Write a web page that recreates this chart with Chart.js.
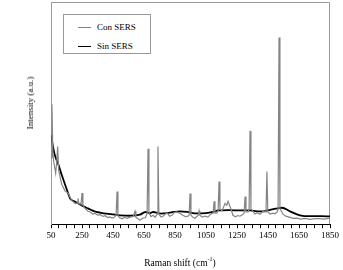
<!DOCTYPE html>
<html>
<head>
<meta charset="utf-8">
<script src="https://cdn.jsdelivr.net/npm/chart.js@4"></script>
<style>
  html, body { margin: 0; padding: 0; background: #fff; }
  #wrap { position: relative; width: 343px; height: 270px; font-family: "Liberation Serif", serif; color: #000; }
  #legend { position: absolute; left: 63px; top: 14px; width: 86px; height: 38px; border: 1px solid #999; background: #fff; font-size: 9px; }
  #legend .row { position: absolute; left: 0; height: 12px; line-height: 12px; white-space: nowrap; }
  #legend .swatch { position: absolute; left: 14px; width: 13px; top: 6px; }
  #legend .txt { position: absolute; left: 33px; top: 0; }
  #ytitle { position: absolute; left: 30px; top: 103px; transform: translate(-50%, -50%) rotate(-90deg); font-size: 9px; white-space: nowrap; }
  #xtitle { position: absolute; left: 180px; top: 262px; transform: translate(-50%, -50%); font-size: 9.5px; white-space: nowrap; }
</style>
</head>
<body>
<div id="wrap">
  <canvas id="ramanChart" width="343" height="270"></canvas>
  <div id="legend"></div>
  <div id="ytitle">Intensity (a.u.)</div>
  <div id="xtitle">Raman shift (cm<sup style="font-size:6px">-1</sup>)</div>
</div>
<script>
// Raman spectra, with and without SERS substrate

const seriesNames = ['Con SERS', 'Sin SERS'];

// Con SERS (grey, sharp peaks, slightly wavy baseline)
const conX = [50, 56, 62, 68, 80, 87, 93, 100, 119, 140, 160, 183, 205, 218, 224, 230, 240, 244, 250, 256,
  270, 289, 305, 320, 335, 350, 368, 385, 400, 415, 430, 445, 460, 470, 476, 482, 490, 510, 525, 540,
  560, 580, 586, 592, 598, 610, 624, 640, 660, 670, 676, 682, 695, 708, 722, 734, 740, 746, 760, 773,
  787, 800, 815, 830, 845, 860, 880, 900, 918, 934, 941, 947, 953, 966, 979, 1000, 1005, 1010, 1025, 1044,
  1062, 1080, 1096, 1102, 1108, 1120, 1128, 1134, 1140, 1153, 1165, 1173, 1184, 1192, 1205, 1224, 1240, 1255, 1269, 1285,
  1296, 1302, 1308, 1322, 1328, 1334, 1340, 1353, 1366, 1380, 1398, 1418, 1437, 1443, 1449, 1465, 1482, 1495, 1509, 1515,
  1521, 1527, 1547, 1565, 1592, 1615, 1637, 1660, 1690, 1721, 1750, 1780, 1815, 1850];
const conY = [30, 54, 32, 28, 23, 28, 35, 24, 18, 15, 14, 10.7, 9.4, 9.5, 11.6, 9, 9.5, 9, 14, 8.5,
  7, 5.8, 5.4, 4.6, 4.9, 4.1, 4.3, 3.5, 3.8, 3, 3.3, 2.8, 3.2, 4, 14.7, 4, 3, 2.4, 3.1, 2.6,
  3.2, 3.5, 4.5, 5.8, 3, 2.6, 1.8, 2.7, 3, 5, 34, 5, 3.4, 4, 3.1, 4.5, 35, 4.5, 3.2, 3.6,
  4.6, 5, 3.6, 4, 5.2, 5.5, 5, 4, 3.4, 3.6, 4, 13.8, 4, 3.1, 2.7, 4, 6, 4, 3.2, 3.6,
  3.2, 4.5, 5, 10.3, 5, 5, 6, 19.2, 7, 6, 8, 9.4, 8.5, 10.3, 8, 4, 3.3, 3.9, 3.6, 4.2,
  5, 12.5, 5.5, 5.5, 7, 42, 7, 5.8, 4.6, 5.2, 4.5, 5.8, 5.5, 23.7, 5.5, 4.6, 5, 4.7, 5.5, 7,
  84, 7, 4.5, 3.6, 3.1, 2.6, 2.7, 2.3, 2.6, 2.2, 2.5, 2.5, 2.3, 2.7];

// Sin SERS (black, smooth)
const sinX = [50, 60, 75, 97, 120, 140, 160, 173, 200, 224, 260, 289, 330, 366, 420, 495, 560, 624, 660, 690,
  708, 760, 798, 840, 882, 930, 979, 1050, 1108, 1127, 1200, 1270, 1334, 1380, 1418, 1463, 1500, 1540, 1592, 1656,
  1721, 1790, 1850];
const sinY = [40, 36, 31, 27, 22, 18, 14, 11.6, 10.3, 9.4, 8, 7.1, 5.8, 5.2, 4.6, 4, 3.8, 4.3, 5.5, 5,
  5.5, 4.8, 5, 5.5, 5.8, 5.5, 4.9, 5, 5.8, 6.2, 6.3, 6.2, 6.2, 5.8, 5.8, 6.5, 7, 7.4, 5.8, 4,
  3.6, 3.6, 3.5];

// x axis: minor ticks every 50, labels every 200
const xMin = 50;
const xMax = 1850;
const xTickStep = 50;
const xLabelStep = 200;

const toPoints = (xs, ys) => xs.map((x, i) => ({ x: x, y: ys[i] }));

// thin grey frame on top / right of the plot area
const framePlugin = {
  id: 'frame',
  beforeDatasetsDraw(chart) {
    const { ctx, chartArea: a } = chart;
    ctx.save();
    ctx.strokeStyle = '#9a9a9a';
    ctx.lineWidth = 1;
    ctx.beginPath();
    ctx.moveTo(a.left + 0.5, a.bottom);
    ctx.lineTo(a.left + 0.5, a.top + 0.5);
    ctx.lineTo(a.right - 0.5, a.top + 0.5);
    ctx.lineTo(a.right - 0.5, a.bottom);
    ctx.stroke();
    ctx.restore();
  }
};

const ctx = document.getElementById('ramanChart').getContext('2d');

const chart = new Chart(ctx, {
  type: 'line',
  data: {
    datasets: [
      {
        label: seriesNames[0],
        data: toPoints(conX, conY),
        borderColor: '#858585',
        borderWidth: 1.2,
        pointRadius: 0,
        tension: 0,
        fill: false
      },
      {
        label: seriesNames[1],
        data: toPoints(sinX, sinY),
        borderColor: '#000000',
        borderWidth: 1.8,
        pointRadius: 0,
        cubicInterpolationMode: 'monotone',
        fill: false
      }
    ]
  },
  options: {
    responsive: false,
    animation: false,
    devicePixelRatio: 1,
    layout: { padding: { left: 43, right: 13, top: 2, bottom: 27 } },
    plugins: {
      legend: { display: false },
      tooltip: { enabled: false }
    },
    scales: {
      x: {
        type: 'linear',
        min: xMin,
        max: xMax,
        grid: { drawOnChartArea: false, drawTicks: true, tickLength: 4, color: '#000' },
        border: { display: true, color: '#000', width: 1 },
        ticks: {
          stepSize: xTickStep,
          autoSkip: false,
          maxRotation: 0,
          padding: 2,
          color: '#000',
          font: { family: 'Liberation Serif', size: 9 },
          callback: (v) => ((v - xMin) % xLabelStep === 0 ? String(v) : '')
        }
      },
      y: {
        min: 0,
        max: 100,
        grid: { display: false },
        border: { display: true, color: '#9a9a9a', width: 1 },
        ticks: { display: false }
      }
    }
  },
  plugins: [framePlugin]
});

// legend box drawn inside the plot, from the datasets
const legendEl = document.getElementById('legend');
chart.data.datasets.forEach((ds, i) => {
  const row = document.createElement('div');
  row.className = 'row';
  row.style.top = (6 + i * 19) + 'px';
  row.style.width = '86px';
  const sw = document.createElement('div');
  sw.className = 'swatch';
  sw.style.borderTop = ds.borderWidth + 'px solid ' + ds.borderColor;
  const tx = document.createElement('span');
  tx.className = 'txt';
  tx.textContent = ds.label;
  row.appendChild(sw);
  row.appendChild(tx);
  legendEl.appendChild(row);
});
</script>
</body>
</html>
